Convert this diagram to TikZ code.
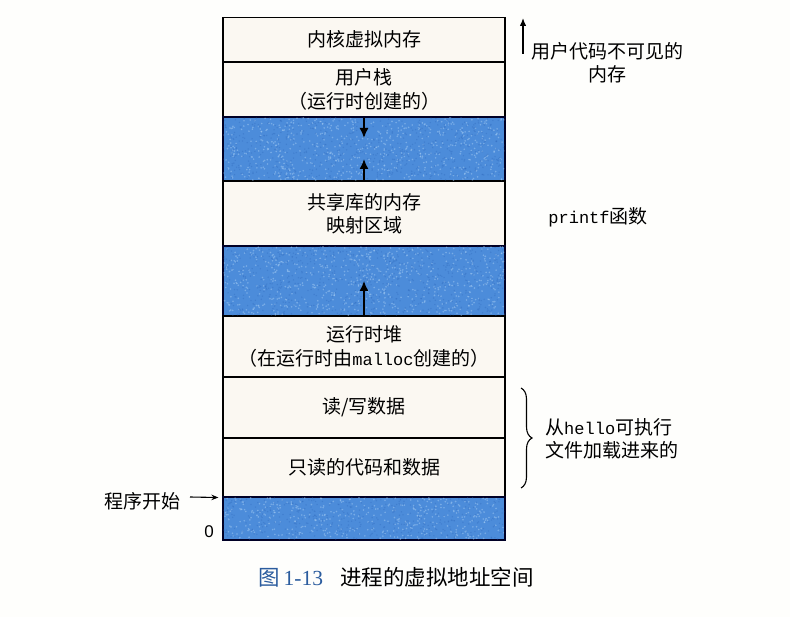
\documentclass[tikz,border=0pt]{standalone}
\usepackage{fontspec}
\setmainfont{Liberation Sans}
\newfontfamily\cjk{Noto Sans CJK SC}
\newfontfamily\codefont{Liberation Mono}
\newfontfamily\capnum{Liberation Serif}
\usetikzlibrary{arrows.meta,decorations.pathreplacing}
\definecolor{paper}{HTML}{FEFEFC}
\definecolor{cellfill}{HTML}{FBF8F2}
\definecolor{holefill}{HTML}{4C8CDA}
\definecolor{speckL}{HTML}{A4CCF3}
\definecolor{speckD}{HTML}{2E68BC}
\definecolor{capblue}{HTML}{2B5C9E}
\newcommand\codetxt[1]{{\codefont\fontsize{17}{20}\selectfont #1}}

\begin{document}
\begin{tikzpicture}[x=1pt,y=-1pt,
  cell/.style={draw=black, line width=1.2pt, fill=cellfill, minimum width=282pt,
    inner sep=0pt, align=center, font=\cjk\fontsize{19}{23.5}\selectfont},
  hole/.style={cell, fill=holefill, draw=black!85!blue},
  growth/.style={-{Latex[length=10pt,width=9pt]}, line width=1.5pt},
  note/.style={inner sep=0pt, font=\cjk\fontsize{19}{23}\selectfont},
]
\useasboundingbox[fill=paper] (0,0) rectangle (790,617);

% address-space regions, top (high addresses) to bottom
\node[cell, minimum height=44.5pt] (kernel) at (364,39.75) {内核虚拟内存};
\node[cell, minimum height=55pt]   (stack)  at (364,89.5)  {用户栈\\（运行时创建的）};
\node[hole, minimum height=64pt]   (gapA)   at (364,149)   {};
\node[cell, minimum height=65pt]   (shlib)  at (364,213.5) {共享库的内存\\映射区域};
\node[hole, minimum height=70pt]   (gapB)   at (364,281)   {};
\node[cell, minimum height=61pt]   (heap)   at (364,346.5) {运行时堆\\（在运行时由\codetxt{malloc}创建的）};
\node[cell, minimum height=61pt]   (rw)     at (364,407.5) {读/写数据};
\node[cell, minimum height=59pt]   (ro)     at (364,467.5) {只读的代码和数据};
\node[hole, minimum height=43pt]   (base)   at (364,518.5) {};

% grainy texture of the unused areas
\pgfmathsetseed{4217}
\foreach \top/\h/\n in {117.7/62.6/640, 246.7/68.6/700, 497.7/41.6/430}{
  \begin{scope}
    \clip (223.7,\top) rectangle (504.3,\top+\h);
    \foreach \k in {1,...,\n}{
      \fill[speckL, opacity=0.5] ({223+282*rnd},{\top+\h*rnd}) circle (0.9);
    }
    \foreach \k in {1,...,\n}{
      \fill[speckD, opacity=0.35] ({223+282*rnd},{\top+\h*rnd}) circle (0.8);
    }
  \end{scope}
}

% growth directions of stack and heap
\coordinate (stackTip) at (364,138);
\coordinate (mmapTip)  at (364,159);
\coordinate (heapTip)  at (364,281);
\draw[growth] (stack.south) -- (stackTip);
\draw[growth] (shlib.north) -- (mmapTip);
\draw[growth] (heap.north) -- (heapTip);

% annotations on the right
\node[note, align=center] (hidden) at (607,63) {用户代码不可见的\\内存};
\coordinate (hidBase) at (523,54);
\coordinate (hidTip)  at (523,18);
\draw[-{Latex[length=8pt,width=6.5pt]}, line width=1.3pt] (hidBase) -- (hidTip);

\node[note] (printf) at (598,217) {\codetxt{printf}函数};

\coordinate (brTop) at (521,388);
\coordinate (brBot) at (521,488);
\draw[decorate, decoration={brace, amplitude=11pt}, line width=1.1pt] (brTop) -- (brBot);
\node[note, align=left, anchor=west] (loaded) at (545,438.5) {从\codetxt{hello}可执行\\文件加载进来的};

% annotations on the left
\node[note, anchor=east] (entry) at (181,501) {程序开始};
\draw[-{Stealth[length=7pt,width=5.5pt]}, line width=1.1pt, shorten >=4pt]
  ([xshift=9pt,yshift=4pt]entry.east) -- (ro.south west);
\node[inner sep=0pt, font=\fontsize{17}{19}\selectfont] (zero) at (209,532) {0};

% caption
\node[inner sep=0pt, anchor=west, font=\fontsize{21.5}{24}\selectfont] (caption) at (258,577)
  {\textcolor{capblue}{\cjk 图\hspace{4pt}\capnum 1-13}\hspace{17pt}{\cjk 进程的虚拟地址空间}};
\end{tikzpicture}
\end{document}
